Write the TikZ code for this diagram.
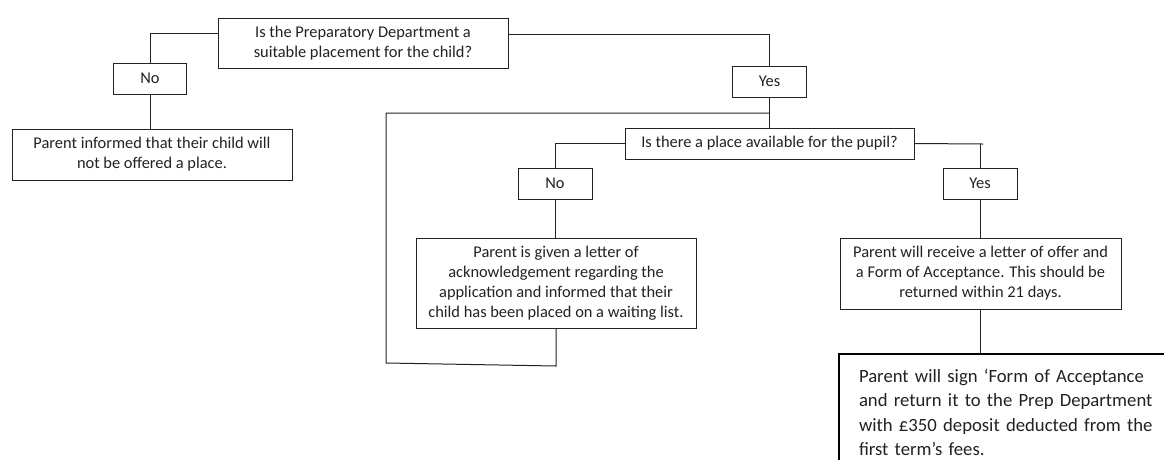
\documentclass[tikz,border=0pt]{standalone}
\usepackage{fontspec}
\setmainfont{Carlito}
\definecolor{ink}{HTML}{222222}
\begin{document}
\begin{tikzpicture}[x=1pt,y=-1pt,
  every node/.style={font=\fontsize{16.4}{20}\selectfont, text=ink},
  box/.style={draw=ink, line width=1pt, rectangle, inner sep=0pt, align=center},
  conn/.style={draw=ink, line width=1pt},
  bigbox/.style={draw=black, line width=2pt, rectangle, anchor=north west, align=left,
    text width=340pt, inner xsep=20pt, inner ysep=15pt,
    font=\fontsize{18.7}{24.5}\selectfont}]
\useasboundingbox (0,0) rectangle (1164,459);
\clip (0,0) rectangle (1164,459);
\fill[white] (0,0) rectangle (1164,459);

\node[box, minimum width=290pt, minimum height=50pt] (q1) at (363,43)
  {Is the Preparatory Department a\\suitable placement for the child?};
\node[box, minimum width=73pt, minimum height=31pt] (no1) at (150,78.5) {No};
\node[box, minimum width=280pt, minimum height=51pt] (info) at (152,154.5)
  {Parent informed that their child will\\not be offered a place.};
\node[box, minimum width=74pt, minimum height=31pt] (yes1) at (769.5,81.5) {Yes};
\node[box, minimum width=289pt, minimum height=31pt] (q2) at (769.5,143.5)
  {Is there a place available for the pupil?};
\node[box, minimum width=74pt, minimum height=31pt] (no2) at (555,183.5) {No};
\node[box, minimum width=280pt, minimum height=90pt] (wait) at (556,283)
  {Parent is given a letter of\\acknowledgement regarding the\\application and informed that their\\child has been placed on a waiting list.};
\node[box, minimum width=74pt, minimum height=31pt] (yes2) at (980,183.5) {Yes};
\node[box, minimum width=281pt, minimum height=71pt] (offer) at (980.5,273.5)
  {Parent will receive a letter of offer and\\a Form of Acceptance. This should be\\returned within 21 days.};
\node[bigbox] (final) at (838,353)
  {Parent will sign ‘Form of Acceptance\\and return it to the Prep Department\\with £350 deposit deducted from the\\first term’s fees.};

\coordinate (ltl) at (386,113);
\coordinate (lbl) at (386,363);
\coordinate (lbr) at (556,366);
\coordinate (tick) at (983,144);

\draw[conn] ([yshift=10pt]q1.west) -| (no1.north);
\draw[conn] (no1.south) -- (no1.south |- info.north);
\draw[conn] ([yshift=9pt]q1.east) -| (yes1.north);
\draw[conn] (yes1.south) -- (q2.north);
\draw[conn] (yes1.south |- ltl) -- (ltl) -- (lbl) -- (lbr) -- (wait.south);
\draw[conn] (q2.west) -| (no2.north);
\draw[conn] (no2.south) -- (no2.south |- wait.north);
\draw[conn] (q2.east) -- (tick);
\draw[conn] (yes2.north) -- (yes2.north |- tick);
\draw[conn] (yes2.south) -- (yes2.south |- offer.north);
\draw[conn] (offer.south) -- (offer.south |- final.north);
\end{tikzpicture}
\end{document}
